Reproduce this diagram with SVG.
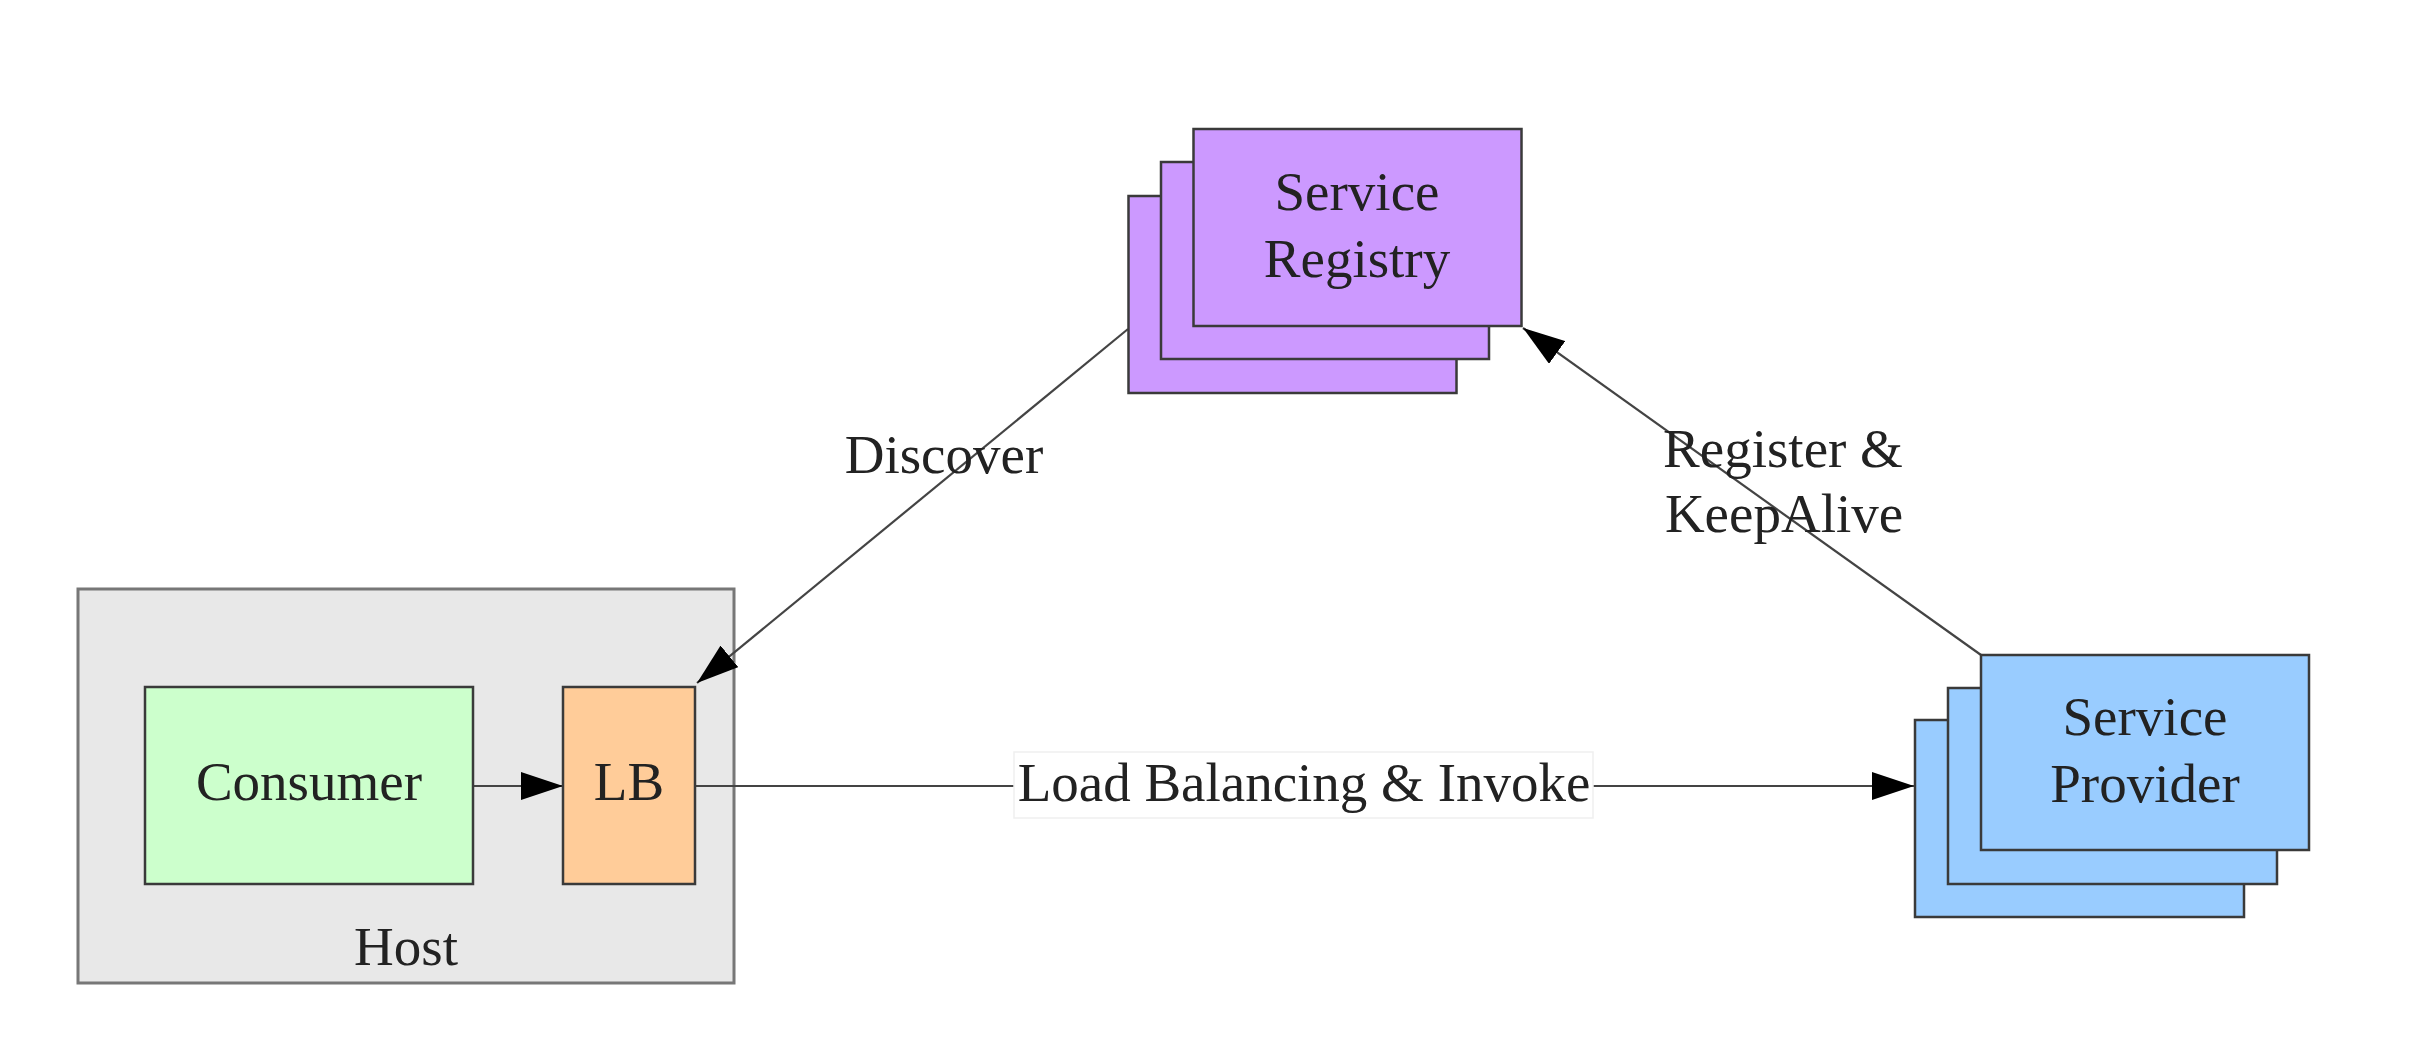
<svg xmlns="http://www.w3.org/2000/svg" width="2418" height="1060" viewBox="0 0 2418 1060">
  <style>
    .t { font-family: "Liberation Serif", "Times New Roman", serif; font-size: 55px; fill: #222; text-anchor: middle; }
    .node { stroke: #3a3a3a; stroke-width: 2.5; }
    .reg { fill: #CC99FF; }
    .prov { fill: #99CCFF; }
    .conn { stroke: #444; stroke-width: 2.2; fill: none; }
  </style>
  <defs>
    <marker id="arrow" viewBox="0 0 42 28" refX="42" refY="14" markerWidth="42" markerHeight="28" markerUnits="userSpaceOnUse" orient="auto">
      <path d="M0,0 L42,14 L0,28 z" fill="#000"/>
    </marker>
  </defs>
  <rect width="2418" height="1060" fill="#ffffff"/>

  <g id="host">
    <rect x="78" y="589" width="656" height="394" fill="#E8E8E8" stroke="#777" stroke-width="3"/>
    <text class="t" x="406" y="965">Host</text>
  </g>

  <g id="connectors">
    <line class="conn" x1="473" y1="786" x2="563" y2="786" marker-end="url(#arrow)"/>
    <line class="conn" x1="1128" y1="329" x2="697" y2="683" marker-end="url(#arrow)"/>
    <line class="conn" x1="1981" y1="655" x2="1523" y2="328" marker-end="url(#arrow)"/>
    <line class="conn" x1="695" y1="786" x2="1914" y2="786" marker-end="url(#arrow)"/>
    <rect x="1014" y="752" width="579" height="66" fill="#ffffff" stroke="#efefef" stroke-width="1.5"/>
    <text class="t" x="1304" y="801">Load Balancing &amp; Invoke</text>
    <text class="t" x="944" y="473">Discover</text>
    <text class="t" x="1783" y="467">Register &amp;</text>
    <text class="t" x="1784" y="532">KeepAlive</text>
  </g>

  <g id="consumer">
    <rect class="node" x="145" y="687" width="328" height="197" fill="#CCFFCC"/>
    <text class="t" x="309" y="800">Consumer</text>
  </g>

  <g id="lb">
    <rect class="node" x="563" y="687" width="132" height="197" fill="#FFCC99"/>
    <text class="t" x="629" y="800">LB</text>
  </g>

  <g id="registry">
    <rect class="node reg" x="1128.5" y="196" width="328" height="197"/>
    <rect class="node reg" x="1161" y="162" width="328" height="197"/>
    <rect class="node reg" x="1193.5" y="129" width="328" height="197"/>
    <text class="t" x="1357" y="210">Service</text>
    <text class="t" x="1357" y="277">Registry</text>
  </g>

  <g id="provider">
    <rect class="node prov" x="1915" y="720" width="329" height="197"/>
    <rect class="node prov" x="1948" y="688" width="329" height="196"/>
    <rect class="node prov" x="1981" y="655" width="328" height="195"/>
    <text class="t" x="2145" y="735">Service</text>
    <text class="t" x="2145" y="802">Provider</text>
  </g>
</svg>
